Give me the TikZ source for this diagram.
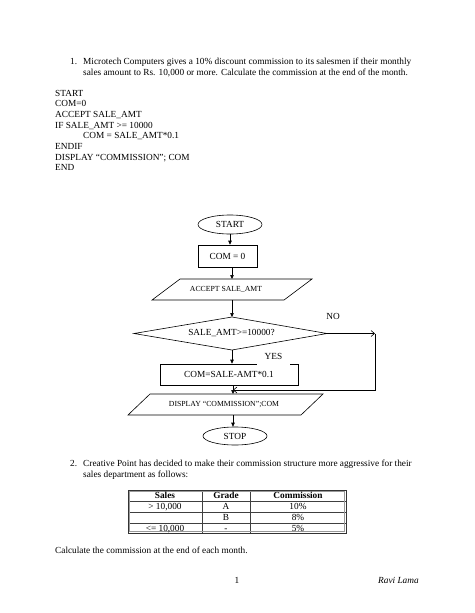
\documentclass[tikz,border=0pt]{standalone}
\usepackage{fontspec}
\setmainfont{Liberation Serif}
\usetikzlibrary{shapes.geometric,arrows.meta}
\begin{document}
\begin{tikzpicture}[x=1pt,y=-1pt,
  body/.style={font=\fontsize{9.3}{11}\selectfont, inner sep=0pt, anchor=base west},
  cell/.style={font=\fontsize{9.3}{11}\selectfont, inner sep=0pt, anchor=base},
  flow/.style={draw, line width=0.6pt, inner sep=0pt, font=\fontsize{9.3}{11}\selectfont},
  ftext/.style={inner sep=0pt, font=\fontsize{9.3}{11}\selectfont},
  small/.style={font=\fontsize{7.75}{9}\selectfont, inner sep=0pt},
  ln/.style={line width=0.6pt},
  arr/.style={-{Triangle[length=4pt,width=3.5pt]}, line width=0.6pt},
  oarr/.style={-{Straight Barb[length=3.5pt,width=6pt]}, line width=0.6pt},
  tabout/.style={line width=0.9pt, black!80},
  tabin/.style={line width=0.5pt, black!75}]
\useasboundingbox (0,0) rectangle (474,613);

% ---- Question 1 ----
\node[body] (n1) at (70,64.5) {1.};
\node[body] (t1a) at (83,64.5) {Microtech Computers gives a 10\% discount commission to its salesmen if their monthly};
\node[body] (t1b) at (83,75.5) {sales amount to Rs. 10,000 or more. Calculate the commission at the end of the month.};

% ---- Pseudocode ----
\node[body] (p1) at (55,96) {START};
\node[body] (p2) at (55,106.7) {COM=0};
\node[body] (p3) at (55,117.4) {ACCEPT SALE\_AMT};
\node[body] (p4) at (55,128.1) {IF SALE\_AMT >= 10000};
\node[body] (p5) at (83,138.8) {COM = SALE\_AMT*0.1};
\node[body] (p6) at (55,149.5) {ENDIF};
\node[body] (p7) at (55,160.2) {DISPLAY “COMMISSION”; COM};
\node[body] (p8) at (55,170.9) {END};

% ---- Flowchart ----
\node[flow, ellipse, minimum width=64pt, minimum height=19pt] (start) at (230,224.5) {START};
\node[flow, rectangle, minimum width=59pt, minimum height=22pt] (com0) at (227.5,256) {COM = 0};

\coordinate (accT) at (232,279);
\coordinate (accB) at (232,300);
\draw[ln] (152,300) -- (284,300) -- (312,279) -- (180,279) -- cycle;
\node[small] (acc) at (226,289.5) {ACCEPT SALE\_AMT};

\coordinate (diaT) at (232,317);
\coordinate (diaB) at (232,350);
\coordinate (diaL) at (134,333.5);
\coordinate (diaR) at (327,333.5);
\draw[ln] (diaT) -- (diaR) -- (diaB) -- (diaL) -- cycle;
\node[ftext] (cond) at (231.5,333.5) {SALE\_AMT>=10000?};

\node[flow, rectangle, minimum width=138pt, minimum height=21pt] (comsale) at (229,374.5) {COM=SALE-AMT*0.1};
\node[ftext, fill=white, minimum width=33pt, minimum height=19pt] (yes) at (273.5,356.5) {YES};

\coordinate (dispT) at (233,394);
\coordinate (dispB) at (233,415);
\draw[ln] (128,415) -- (301,415) -- (323,394) -- (150,394) -- cycle;
\node[small] (disp) at (224,404.5) {DISPLAY “COMMISSION”;COM};

\node[flow, ellipse, minimum width=64pt, minimum height=18pt] (stop) at (235,436) {STOP};

\node[ftext] (no) at (333,316) {NO};
\coordinate (noE) at (375,333.5);
\coordinate (join) at (233,390);

\draw[arr] (start.south) -- (start.south |- com0.north);
\draw[arr] (com0.south -| accT) -- (accT);
\draw[arr] (accB) -- (diaT);
\draw[arr] (diaB) -- (diaB |- comsale.north);
\draw[arr] (comsale.south -| dispT) -- (dispT);
\draw[arr] (dispB) -- (dispB |- stop.north);
\draw[oarr] (diaR) -- (noE);
\draw[oarr] (noE) |- (join);

% ---- Question 2 ----
\node[body] (n2) at (70,466.7) {2.};
\node[body] (t2a) at (83,466.7) {Creative Point has decided to make their commission structure more aggressive for their};
\node[body] (t2b) at (83,477.7) {sales department as follows:};

% ---- Table ----
\draw[tabin] (128,501) -- (346,501);
\draw[tabin] (128,512) -- (346,512);
\draw[tabin] (128,523) -- (346,523);
\draw[tabin] (202,490) -- (202,533);
\draw[tabin] (250,490) -- (250,533);
\draw[tabout] (128,490) rectangle (346,533);
\draw[line width=0.4pt, black!40] (129.5,491.5) rectangle (344.5,531.5);

\node[cell, font=\fontsize{9.3}{11}\selectfont\bfseries] (h1) at (165,498.6) {Sales};
\node[cell, font=\fontsize{9.3}{11}\selectfont\bfseries] (h2) at (226,498.6) {Grade};
\node[cell, font=\fontsize{9.3}{11}\selectfont\bfseries] (h3) at (298,498.6) {Commission};
\node[cell] (r1a) at (165,509.6) {> 10,000};
\node[cell] (r1b) at (226,509.6) {A};
\node[cell] (r1c) at (298,509.6) {10\%};
\node[cell] (r2b) at (226,520.6) {B};
\node[cell] (r2c) at (298,520.6) {8\%};
\node[cell] (r3a) at (165,531) {<= 10,000};
\node[cell] (r3b) at (226,531) {-};
\node[cell] (r3c) at (298,531) {5\%};

\node[body] (t3) at (55,553.3) {Calculate the commission at the end of each month.};

% ---- Footer ----
\node[cell] (pg) at (237,583) {1};
\node[body, font=\fontsize{9.3}{11}\selectfont\itshape] (auth) at (378,583) {Ravi Lama};
\end{tikzpicture}
\end{document}
